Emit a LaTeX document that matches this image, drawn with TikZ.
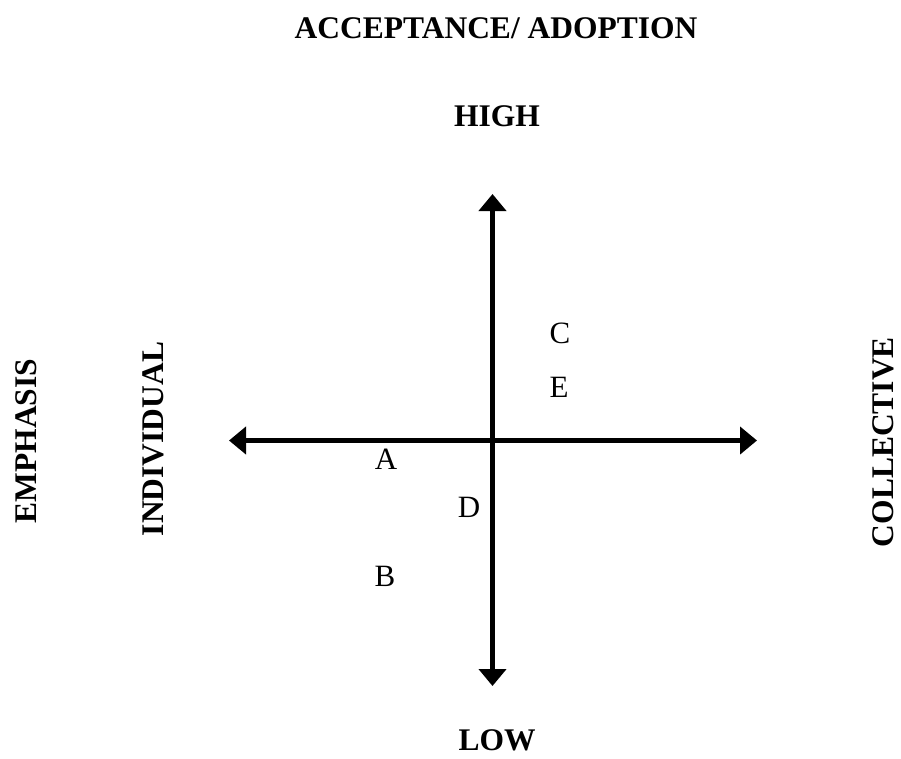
\documentclass[tikz,border=0pt]{standalone}
\usepackage{fontspec}
\setmainfont{Liberation Serif}
\usetikzlibrary{arrows.meta}
\tikzset{
  every picture/.style={line join=miter, line cap=butt},
  heading/.style={font=\fontsize{31.5}{38}\selectfont\bfseries, anchor=base, inner sep=0pt},
  side/.style={heading, rotate=90},
  item/.style={font=\fontsize{31}{36}\selectfont, anchor=base, inner sep=0pt},
  axis/.style={line width=5.5pt, {Triangle[length=17pt,width=27pt]}-{Triangle[length=17pt,width=27pt]}},
}

\begin{document}
\begin{tikzpicture}[x=1pt,y=-1pt]
\useasboundingbox(0,0)rectangle(901,758);
\node[heading](title)at(496,38){ACCEPTANCE/ ADOPTION};
\node[heading](high)at(497,126){HIGH};
\node[heading](low)at(497,750){LOW};
\node[side](emph)at(36,441){EMPHASIS};
\node[side](indiv)at(163,439){INDIVIDUAL};
\node[side](coll)at(893,442){COLLECTIVE};
% axes
\coordinate(top)at(492.5,194);
\coordinate(bot)at(492.5,686);
\coordinate(lft)at(229,440.5);
\coordinate(rgt)at(757,440.5);
\draw[axis](lft)--(rgt);
\draw[axis](bot)--(top);
% points
\node[item](c)at(560,343){C};
\node[item](e)at(559,397){E};
\node[item](a)at(386,469){A};
\node[item](d)at(469,517){D};
\node[item](b)at(385,586){B};
\end{tikzpicture}
\end{document}
